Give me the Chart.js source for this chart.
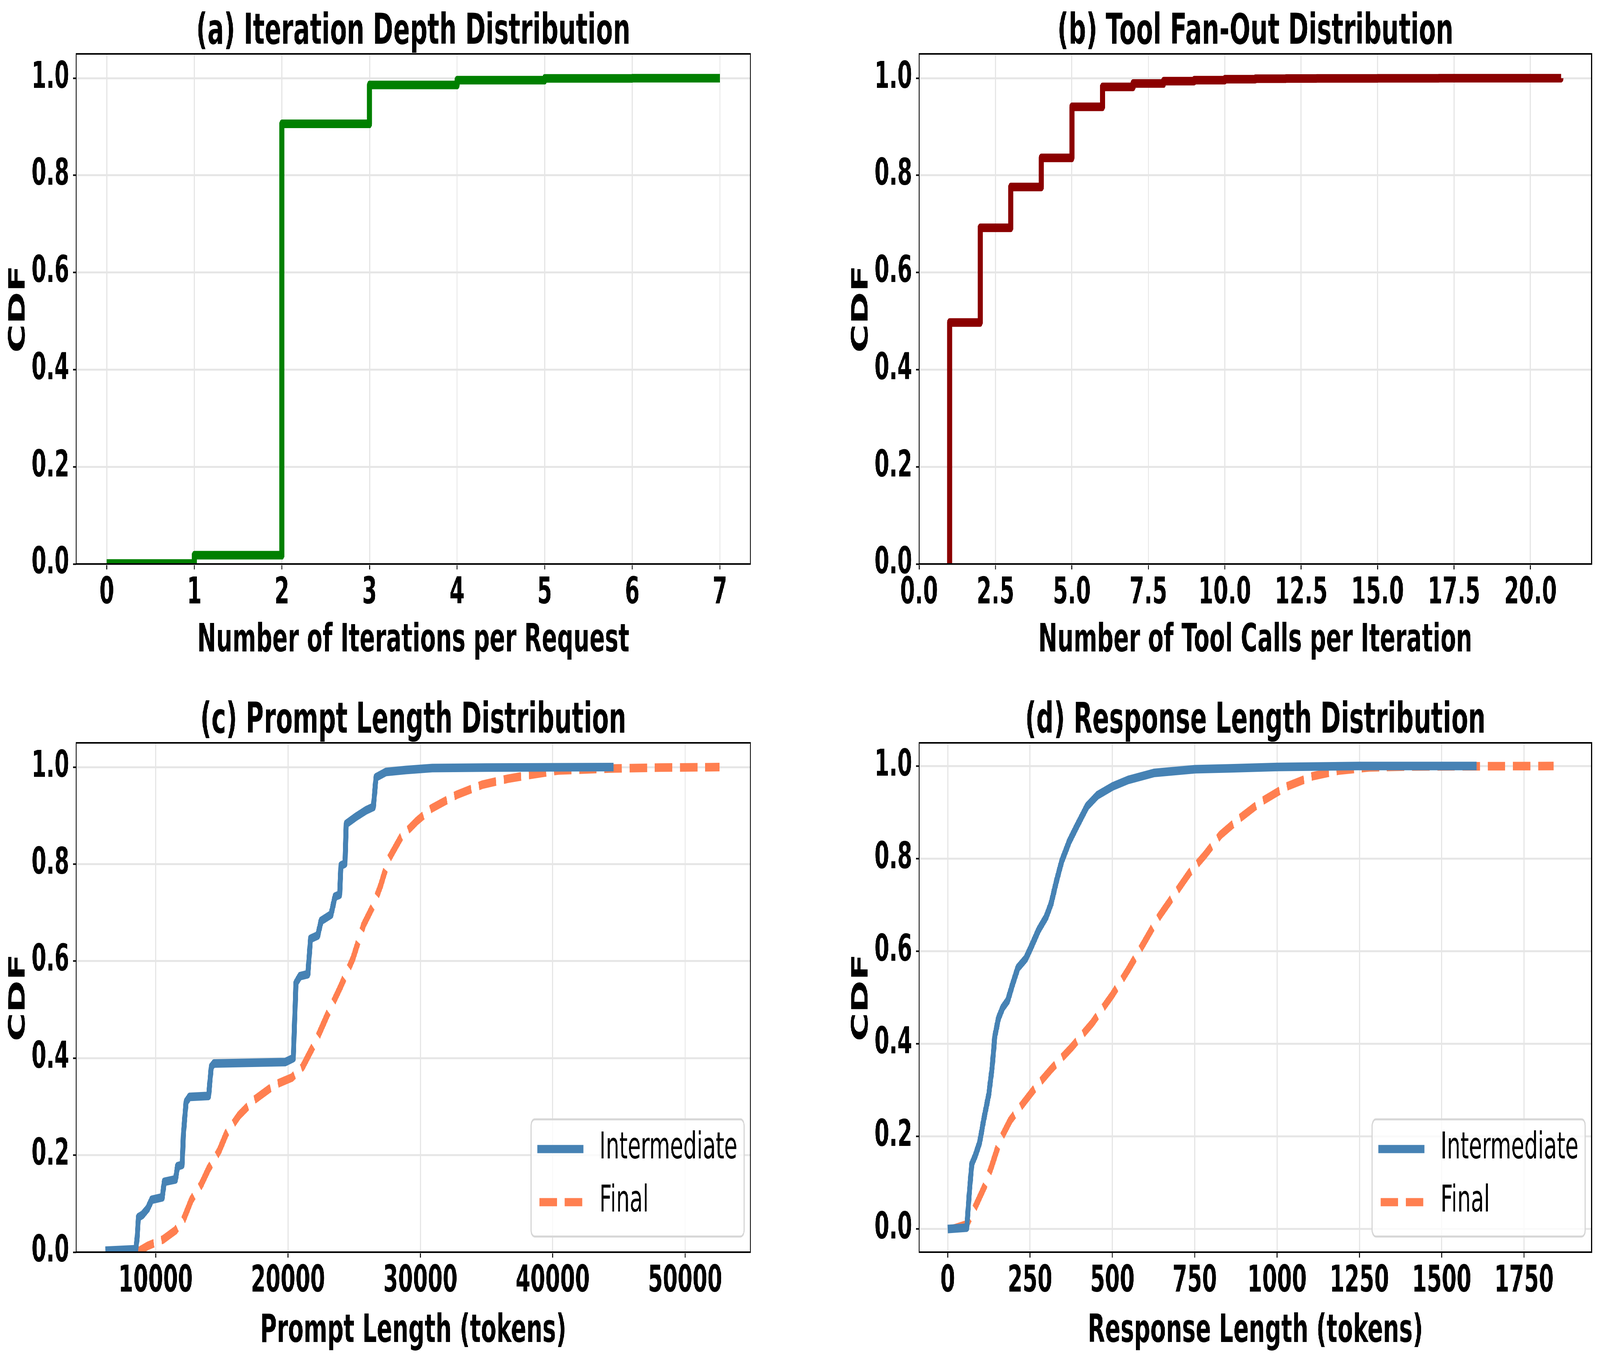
<!DOCTYPE html>
<html>
<head>
<meta charset="utf-8">
<script src="https://cdn.jsdelivr.net/npm/chart.js@4.4.1/dist/chart.umd.min.js"></script>
<style>
  html, body { margin: 0; padding: 0; background: #fff; overflow: hidden; }
  #fig { position: absolute; left: 0; top: 0; width: 7042px; height: 3477px; transform-origin: 0 0; }
  canvas { position: absolute; }
</style>
</head>
<body>
<div id="fig">
  <canvas id="panelA" width="3521" height="1738" style="left:0;top:0;width:3521px;height:1738px"></canvas>
  <canvas id="panelB" width="3521" height="1738" style="left:3521px;top:0;width:3521px;height:1738px"></canvas>
  <canvas id="panelC" width="3521" height="1739" style="left:0;top:1738px;width:3521px;height:1739px"></canvas>
  <canvas id="panelD" width="3521" height="1739" style="left:3521px;top:1738px;width:3521px;height:1739px"></canvas>
</div>
<script>
// (a) iterations per request
const iterX = [0, 1, 2, 3, 4, 5, 6, 7];
const iterCdf = [0.001, 0.018, 0.906, 0.986, 0.996, 0.9995, 1.0, 1.0];
const iterTicks = [0, 1, 2, 3, 4, 5, 6, 7];

// (b) tool calls per iteration
const fanX = [1, 1, 2, 3, 4, 5, 6, 7, 8, 9, 10, 11, 12, 13, 15, 17, 21];
const fanCdf = [0, 0.497, 0.692, 0.776, 0.836, 0.941, 0.982, 0.989, 0.994, 0.996, 0.998, 0.999, 0.9993, 0.9996, 0.9998, 0.9999, 1.0];
const fanTicks = [0, 2.5, 5, 7.5, 10, 12.5, 15, 17.5, 20];

// (c) prompt length
const promptInterX = [6200, 8500, 8600, 8700, 9000, 9400, 9700, 10500, 10650, 11500, 11650, 12000, 12100, 12300, 12550, 14000, 14200, 14400, 19800, 20400, 20600, 20900, 21500, 21700, 22250, 22500, 23250, 23550, 23900, 24000, 24300, 24400, 25100, 25900, 26450, 26650, 27400, 28900, 30900, 35000, 44600];
const promptInterCdf = [0.003, 0.006, 0.03, 0.072, 0.077, 0.09, 0.108, 0.113, 0.145, 0.15, 0.177, 0.18, 0.245, 0.31, 0.32, 0.322, 0.382, 0.389, 0.392, 0.4, 0.555, 0.569, 0.573, 0.646, 0.653, 0.683, 0.696, 0.733, 0.737, 0.797, 0.801, 0.883, 0.897, 0.911, 0.918, 0.979, 0.99, 0.994, 0.998, 0.999, 1.0];
const promptFinalX = [8600, 9400, 10550, 11500, 12100, 12700, 13450, 14000, 14800, 15350, 16300, 17450, 19000, 20300, 21100, 22050, 23000, 23950, 24900, 25700, 26450, 27000, 27600, 28550, 29700, 30850, 32750, 34700, 36600, 38500, 40400, 44250, 48100, 52600];
const promptFinalCdf = [0.0, 0.013, 0.026, 0.045, 0.067, 0.108, 0.14, 0.172, 0.209, 0.245, 0.282, 0.314, 0.345, 0.36, 0.382, 0.432, 0.491, 0.546, 0.605, 0.674, 0.715, 0.756, 0.81, 0.856, 0.888, 0.915, 0.943, 0.964, 0.976, 0.985, 0.993, 0.997, 0.999, 1.0];
const promptTicks = [10000, 20000, 30000, 40000, 50000];

// (d) response length
const respInterX = [0, 58, 65, 73, 84, 97, 109, 125, 135, 143, 154, 167, 182, 198, 213, 237, 252, 276, 299, 314, 330, 346, 369, 392, 423, 455, 501, 548, 626, 751, 859, 1000, 1248, 1606];
const respInterCdf = [0.0, 0.003, 0.073, 0.14, 0.159, 0.187, 0.235, 0.292, 0.35, 0.416, 0.455, 0.478, 0.493, 0.531, 0.564, 0.584, 0.607, 0.646, 0.674, 0.703, 0.751, 0.794, 0.837, 0.87, 0.913, 0.937, 0.956, 0.97, 0.985, 0.993, 0.995, 0.998, 1.0, 1.0];
const respFinalX = [19, 58, 81, 112, 135, 159, 190, 221, 268, 314, 377, 439, 501, 548, 595, 641, 688, 735, 781, 828, 890, 952, 1030, 1108, 1186, 1279, 1404, 1840];
const respFinalCdf = [0.001, 0.01, 0.044, 0.092, 0.139, 0.192, 0.235, 0.264, 0.307, 0.345, 0.393, 0.445, 0.507, 0.56, 0.617, 0.674, 0.722, 0.77, 0.808, 0.851, 0.889, 0.923, 0.956, 0.978, 0.99, 0.997, 0.999, 1.0];
const respTicks = [0, 250, 500, 750, 1000, 1250, 1500, 1750];

const cdfTicks = [0, 0.2, 0.4, 0.6, 0.8, 1.0];

const FONT = '"DejaVu Sans", sans-serif';
const GRID = '#e6e6e6';

// the figure is laid out in reference pixels (7042x3477), then fitted to the window
const sx = window.innerWidth / 7042, sy = window.innerHeight / 3477;
document.getElementById('fig').style.transform = 'scale(' + sx + ',' + sy + ')';

const toPoints = (xs, ys) => xs.map((x, i) => ({ x: x, y: ys[i] }));

// black box around the plot area
const frame = {
  id: 'frame',
  afterDatasetsDraw(chart) {
    const { ctx, chartArea: a } = chart;
    ctx.save();
    ctx.strokeStyle = '#000';
    ctx.lineWidth = 4;
    ctx.strokeRect(a.left, a.top, a.right - a.left, a.bottom - a.top);
    ctx.restore();
  }
};

// matplotlib-like legend in the lower right corner
const cornerLegend = {
  id: 'cornerLegend',
  afterDraw(chart, args, opts) {
    if (!opts.show) return;
    const { ctx, chartArea } = chart;
    const sets = chart.data.datasets;
    ctx.save();
    ctx.font = '94px ' + FONT;
    const textW = Math.max(...sets.map(d => ctx.measureText(d.label).width));
    const w = 301 + textW + 30, h = 300;
    const x = chartArea.right - 28 - w, y = chartArea.bottom - 40 - h;
    ctx.beginPath();
    ctx.roundRect(x, y, w, h, 16);
    ctx.fillStyle = 'rgba(255,255,255,0.8)';
    ctx.fill();
    ctx.lineWidth = 5;
    ctx.strokeStyle = '#d6d6d6';
    ctx.stroke();
    sets.forEach((d, i) => {
      const cy = y + 76 + i * 136;
      ctx.beginPath();
      ctx.setLineDash(d.borderDash || []);
      ctx.lineCap = 'butt';
      ctx.lineWidth = 21;
      ctx.strokeStyle = d.borderColor;
      ctx.moveTo(x + (d.borderDash ? 37 : 27), cy);
      ctx.lineTo(x + 230, cy);
      ctx.stroke();
      ctx.setLineDash([]);
      ctx.fillStyle = '#000';
      ctx.textBaseline = 'middle';
      ctx.textAlign = 'left';
      ctx.fillText(d.label, x + 301, cy);
    });
    ctx.restore();
  }
};

function makePanel(id, p) {
  const top = p.row === 0;
  new Chart(document.getElementById(id), {
    type: 'line',
    data: { datasets: p.datasets },
    plugins: [frame, cornerLegend],
    options: {
      responsive: false,
      animation: false,
      devicePixelRatio: 1,
      layout: { padding: { left: p.padLeft, right: p.padRight, top: 0, bottom: 0 } },
      elements: { point: { radius: 0 } },
      plugins: {
        legend: { display: false },
        tooltip: { enabled: false },
        cornerLegend: { show: p.legend },
        title: {
          display: true,
          fullSize: false,
          text: p.title,
          color: '#000',
          font: { family: FONT, size: 108, weight: 'bold', lineHeight: 1.0 },
          padding: { top: top ? 30 : 56, bottom: 0 }
        }
      },
      scales: {
        x: {
          type: 'linear',
          min: p.xMin,
          max: p.xMax,
          afterFit: s => { s.height = top ? 294 : 271; },
          afterBuildTicks: s => { s.ticks = p.xTicks.map(v => ({ value: v })); },
          grid: { color: GRID, lineWidth: 5, tickColor: '#000', tickWidth: 4, tickLength: 14 },
          border: { display: false },
          ticks: {
            color: '#000',
            padding: 16,
            maxRotation: 0,
            autoSkip: false,
            font: { family: FONT, size: 94, weight: 'bold', lineHeight: 1.0 },
            callback: p.xFormat
          },
          title: {
            display: true,
            text: p.xLabel,
            color: '#000',
            font: { family: FONT, size: 100, weight: 'bold', lineHeight: 1.2 },
            padding: { top: 0, bottom: top ? 36 : 7 }
          }
        },
        y: {
          type: 'linear',
          min: p.yMin,
          max: 1.05,
          afterFit: s => { s.width = 335; },
          afterBuildTicks: s => { s.ticks = cdfTicks.map(v => ({ value: v })); },
          grid: { color: GRID, lineWidth: 5, tickColor: '#000', tickWidth: 4, tickLength: 14 },
          border: { display: false },
          ticks: {
            color: '#000',
            padding: 16,
            autoSkip: false,
            font: { family: FONT, size: 94, weight: 'bold', lineHeight: 1.0 },
            callback: v => v.toFixed(1)
          },
          title: {
            display: true,
            text: 'CDF',
            color: '#000',
            font: { family: FONT, size: 100, weight: 'bold', lineHeight: 1.2 },
            padding: { top: 23, bottom: 0 }
          }
        }
      }
    }
  });
}

const solid = (label, xs, ys, color, stepped) => ({
  label: label,
  data: toPoints(xs, ys),
  borderColor: color,
  backgroundColor: color,
  borderWidth: 22,
  stepped: stepped || false,
  borderCapStyle: 'butt',
  borderJoinStyle: 'round',
  fill: false
});

const dashed = (label, xs, ys, color) => Object.assign(solid(label, xs, ys, color), { borderDash: [77, 34] });

makePanel('panelA', {
  row: 0, padLeft: 0, padRight: 218,
  title: '(a) Iteration Depth Distribution',
  xLabel: 'Number of Iterations per Request',
  xMin: -0.35, xMax: 7.35, yMin: 0, xTicks: iterTicks,
  xFormat: v => String(v),
  legend: false,
  datasets: [solid('Iterations', iterX, iterCdf, '#008000', 'before')]
});

makePanel('panelB', {
  row: 0, padLeft: 189, padRight: 37,
  title: '(b) Tool Fan-Out Distribution',
  xLabel: 'Number of Tool Calls per Iteration',
  xMin: 0, xMax: 22, yMin: 0, xTicks: fanTicks,
  xFormat: v => v.toFixed(1),
  legend: false,
  datasets: [solid('Tool calls', fanX, fanCdf, '#8B0000', 'before')]
});

makePanel('panelC', {
  row: 1, padLeft: 0, padRight: 218,
  title: '(c) Prompt Length Distribution',
  xLabel: 'Prompt Length (tokens)',
  xMin: 3990, xMax: 54940, yMin: 0, xTicks: promptTicks,
  xFormat: v => String(v),
  legend: true,
  datasets: [
    solid('Intermediate', promptInterX, promptInterCdf, '#4682B4'),
    dashed('Final', promptFinalX, promptFinalCdf, '#FF7F50')
  ]
});

makePanel('panelD', {
  row: 1, padLeft: 189, padRight: 37,
  title: '(d) Response Length Distribution',
  xLabel: 'Response Length (tokens)',
  xMin: -87, xMax: 1955, yMin: -0.05, xTicks: respTicks,
  xFormat: v => String(v),
  legend: true,
  datasets: [
    solid('Intermediate', respInterX, respInterCdf, '#4682B4'),
    dashed('Final', respFinalX, respFinalCdf, '#FF7F50')
  ]
});
</script>
</body>
</html>
